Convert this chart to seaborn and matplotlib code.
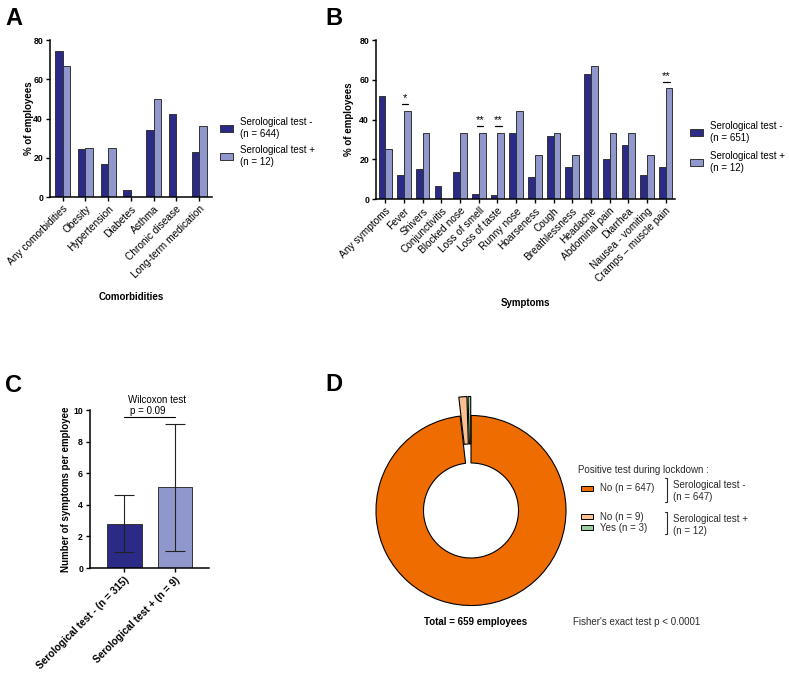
import numpy as np
import pandas as pd
import seaborn as sns
import matplotlib.pyplot as plt
from matplotlib.patches import Patch, Rectangle
from matplotlib.lines import Line2D

# Data
comorbidities = ["Any comorbidities", "Obesity", "Hypertension", "Diabetes",
                 "Asthma", "Chronic disease", "Long-term medication"]
como_neg = [74.6, 24.5, 17.0, 3.4, 33.9, 42.4, 23.0]
como_pos = [66.7, 25.0, 25.0, 0.0, 50.0, 0.0, 36.4]

symptoms = ["Any symptoms", "Fever", "Shivers", "Conjunctivitis", "Blocked nose",
            "Loss of smell", "Loss of taste", "Runny nose", "Hoarseness", "Cough",
            "Breathlessness", "Headache", "Abdominal pain", "Diarrhea",
            "Nausea - vomiting", "Cramps \u2013 muscle pain"]
symp_neg = [51.8, 12.1, 14.9, 6.4, 13.4, 2.5, 2.2, 33.0, 10.9, 31.5,
            16.2, 63.1, 20.3, 27.3, 12.2, 16.1]
symp_pos = [25.0, 44.4, 33.3, 0.0, 33.3, 33.3, 33.3, 44.4, 22.2, 33.3,
            22.2, 66.7, 33.3, 33.3, 22.2, 55.6]
symp_stars = {"Fever": "*", "Loss of smell": "**", "Loss of taste": "**",
              "Cramps \u2013 muscle pain": "**"}

count_groups = ["Serological test - (n = 315)", "Serological test + (n = 9)"]
count_mean = [2.8, 5.1]
count_sd = [1.8, 4.0]

donut_labels = ["No (n = 647)", "No (n = 9)", "Yes (n = 3)"]
donut_counts = [647, 9, 3]

DARK = "#2b2a86"
LIGHT = "#8f97cc"
EDGE = "#333333"
DONUT_COLORS = ["#ee6c00", "#f9bf8f", "#96d09f"]

sns.set_style("ticks")
plt.rcParams["font.family"] = ["Liberation Sans", "DejaVu Sans"]
plt.rcParams["axes.linewidth"] = 1.1
for key in ["text.color", "axes.labelcolor", "xtick.color", "ytick.color",
            "axes.edgecolor"]:
    plt.rcParams[key] = "black"

W, H = 789, 673
fig = plt.figure(figsize=(W / 100, H / 100), dpi=100)


def fx(x):
    return x / W


def fy(y):
    return 1 - y / H


def px_axes(x0, y0, x1, y1):
    return fig.add_axes([fx(x0), fy(y1), (x1 - x0) / W, (y1 - y0) / H])


def style_axes(ax):
    sns.despine(ax=ax)
    ax.tick_params(axis="both", length=3, width=1, color="black", pad=2)
    ax.tick_params(axis="y", labelsize=6.3)
    for t in ax.get_yticklabels():
        t.set_fontweight("bold")


def group_bars(ax, cats, neg, pos, width):
    df = pd.DataFrame({
        "cat": cats * 2,
        "val": neg + pos,
        "grp": ["neg"] * len(cats) + ["pos"] * len(cats),
    })
    sns.barplot(data=df, x="cat", y="val", hue="grp", palette=[DARK, LIGHT],
                saturation=1, width=width, edgecolor=EDGE, linewidth=0.7,
                legend=False, ax=ax)
    ax.set_xticks(range(len(cats)))
    ax.set_xticklabels(cats, rotation=45, ha="right", rotation_mode="anchor",
                       fontsize=7.3)
    ax.set_ylim(0, 80)
    ax.set_yticks([0, 20, 40, 60, 80])
    style_axes(ax)


def bar_legend(ax, n_neg, n_pos, x, y, spacing):
    handles = [Patch(facecolor=DARK, edgecolor=EDGE, linewidth=0.7),
               Patch(facecolor=LIGHT, edgecolor=EDGE, linewidth=0.7)]
    labels = [f"Serological test -\n(n = {n_neg})", f"Serological test +\n(n = {n_pos})"]
    ax.legend(handles, labels, loc="center left", bbox_to_anchor=(fx(x), fy(y)),
              bbox_transform=fig.transFigure, frameon=False, fontsize=7,
              handlelength=1.3, handleheight=0.7, handletextpad=0.8,
              labelspacing=spacing, borderpad=0, borderaxespad=0)


# Panel A
axA = px_axes(50, 40, 212, 197)
group_bars(axA, comorbidities, como_neg, como_pos, 0.66)
axA.set_xlim(-0.55, 6.57)
axA.set_xlabel("Comorbidities", fontsize=7, fontweight="bold", labelpad=8)
axA.set_ylabel("% of employees", fontsize=7, fontweight="bold")
axA.yaxis.set_label_coords(-0.10, 0.5)
bar_legend(axA, 644, 12, 220, 142, 0.7)

# Panel B
axB = px_axes(376, 40, 675, 199)
group_bars(axB, symptoms, symp_neg, symp_pos, 0.72)
axB.set_xlim(-0.5, 15.5)
axB.set_xlabel("Symptoms", fontsize=7, fontweight="bold", labelpad=10)
axB.set_ylabel("% of employees", fontsize=7, fontweight="bold")
axB.yaxis.set_label_coords(-0.072, 0.5)
bar_legend(axB, 651, 12, 690, 147, 0.9)
for i, name in enumerate(symptoms):
    if name in symp_stars:
        top = symp_pos[i] + 3.2
        axB.plot([i + 0.05 - 0.17, i + 0.05 + 0.17], [top, top],
                 color="black", lw=0.9)
        axB.text(i + 0.05, top + 0.6, symp_stars[name], ha="center", va="bottom",
                 fontsize=8)

# Panel C
axC = px_axes(90, 410, 209, 568)
dfc = pd.DataFrame({"grp": count_groups, "mean": count_mean})
sns.barplot(data=dfc, x="grp", y="mean", hue="grp", palette=[DARK, LIGHT],
            saturation=1, width=0.68, edgecolor=EDGE, linewidth=0.7,
            legend=False, ax=axC)
axC.errorbar(range(len(count_groups)), count_mean, yerr=count_sd, fmt="none",
             ecolor="#222222", elinewidth=0.8, capsize=7.3, capthick=0.8)
axC.set_xlim(-0.68, 1.67)
axC.set_ylim(0, 10)
axC.set_yticks([0, 2, 4, 6, 8, 10])
axC.set_xticks(range(len(count_groups)))
axC.set_xticklabels(count_groups, rotation=45, ha="right", rotation_mode="anchor",
                    fontsize=7.3, fontweight="bold")
axC.set_xlabel("")
axC.set_ylabel("Number of symptoms per employee", fontsize=7, fontweight="bold")
axC.yaxis.set_label_coords(-0.16, 0.5)
style_axes(axC)
axC.plot([0, 1], [9.55, 9.55], color="black", lw=0.8, clip_on=False)
axC.text(0.47, 9.93, "p = 0.09", ha="center", va="center", fontsize=7)
axC.text(0.64, 10.63, "Wilcoxon test", ha="center", va="center", fontsize=7)

# Panel D
axD = px_axes(471 - 120, 510.5 - 120, 471 + 120, 510.5 + 120)
axD.pie(donut_counts, colors=DONUT_COLORS, explode=[0, 0.2, 0.2], startangle=90,
        counterclock=False, radius=1,
        wedgeprops=dict(width=0.5, edgecolor="black", linewidth=0.8))
axD.set_xlim(-1.263, 1.263)
axD.set_ylim(-1.263, 1.263)
axD.set_aspect("equal")
axD.axis("off")

TXT = "#2a2a2a"
fig.text(fx(578), fy(470), "Positive test during lockdown :", fontsize=7,
         va="center", color=TXT)
for lab, col, yc in zip(donut_labels, DONUT_COLORS, [488.2, 516.7, 527.7]):
    fig.add_artist(Rectangle((fx(581), fy(yc + 2.3)), 12.3 / W, 4.6 / H,
                             facecolor=col, edgecolor="black", linewidth=0.7,
                             transform=fig.transFigure))
    fig.text(fx(600), fy(yc), lab, fontsize=7, va="center", color=TXT)
for y0, y1, l1, l2 in [(478, 501.7, "Serological test -", "(n = 647)"),
                       (511.7, 534, "Serological test +", "(n = 12)")]:
    fig.add_artist(Line2D([fx(665), fx(667), fx(667), fx(665)],
                          [fy(y0), fy(y0), fy(y1), fy(y1)], color=TXT, lw=0.8,
                          transform=fig.transFigure))
    fig.text(fx(673), fy(y0 + 7.5), l1, fontsize=7, va="center", color=TXT)
    fig.text(fx(673), fy(y0 + 19), l2, fontsize=7, va="center", color=TXT)

fig.text(fx(475.5), fy(621.7), "Total = 659 employees", fontsize=7,
         fontweight="bold", ha="center", va="center")
fig.text(fx(572.7), fy(621.7), "Fisher's exact test p < 0.0001", fontsize=7,
         va="center", color=TXT)

# Panel letters
for letter, x, y in [("A", 5, 7), ("B", 325, 7), ("C", 5, 374), ("D", 325, 373)]:
    fig.text(fx(x), fy(y), letter, fontsize=17, fontweight="heavy", va="top",
             ha="left")

fig.savefig("out.png", dpi=100)
